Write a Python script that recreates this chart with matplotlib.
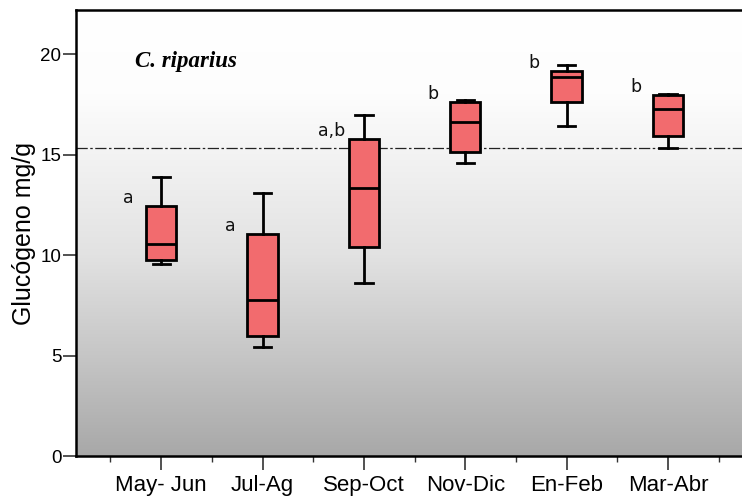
import numpy as np
import matplotlib
matplotlib.use("Agg")
import matplotlib.pyplot as plt
from matplotlib.colors import LinearSegmentedColormap

# Box statistics (mg/g)
seasons = ["May- Jun", "Jul-Ag", "Sep-Oct", "Nov-Dic", "En-Feb", "Mar-Abr"]
whisker_low = [9.56, 5.43, 8.6, 14.6, 16.43, 15.34]
q1 = [9.76, 5.98, 10.4, 15.14, 17.63, 15.94]
median = [10.55, 7.77, 13.35, 16.63, 18.87, 17.28]
q3 = [12.45, 11.05, 15.79, 17.63, 19.17, 17.98]
whisker_high = [13.9, 13.1, 16.98, 17.73, 19.47, 18.0]
groups = ["a", "a", "a,b", "b", "b", "b"]
ref_line = 15.35

plt.rcParams["font.family"] = ["Liberation Sans", "DejaVu Sans"]

fig = plt.figure(figsize=(7.42, 4.98), dpi=100)
ax = fig.add_axes([76 / 742, 42 / 498, 666 / 742, 446 / 498])

x0, x1 = 0.16, 6.73
y0, y1 = 0, 22.2

# grey gradient background
cmap = LinearSegmentedColormap.from_list(
    "bg",
    [(0.0, "#a8a8a8"), (5 / 22.2, "#c6c6c6"), (10 / 22.2, "#e2e2e2"),
     (15 / 22.2, "#f3f3f3"), (18 / 22.2, "#fdfdfd"), (1.0, "#ffffff")])
grad = np.linspace(0, 1, 256).reshape(-1, 1)
ax.imshow(grad, cmap=cmap, origin="lower", aspect="auto",
          extent=[x0, x1, y0, y1], zorder=0)

ax.axhline(ref_line, color="#222222", lw=0.9, linestyle=(0, (9, 2, 2, 2)), zorder=1)

pos = np.arange(1, len(seasons) + 1)
stats = []
for i in range(len(seasons)):
    stats.append(dict(whislo=whisker_low[i], q1=q1[i], med=median[i],
                      q3=q3[i], whishi=whisker_high[i], fliers=[]))

lw = 2.0
ax.bxp(stats, positions=pos, widths=0.3, patch_artist=True, showfliers=False,
       boxprops=dict(facecolor="#f26b6e", edgecolor="black", linewidth=lw),
       medianprops=dict(color="black", linewidth=lw),
       whiskerprops=dict(color="black", linewidth=lw),
       capprops=dict(color="black", linewidth=lw),
       capwidths=0.17, zorder=3)

for p, top, g in zip(pos, q3, groups):
    ax.text(p - 0.32, top + 0.4, g, ha="center", va="center", fontsize=12.5,
            family="DejaVu Sans", color="#111111")

ax.text(1.245, 19.62, "C. riparius", fontsize=16.5, family="Liberation Serif",
        fontstyle="italic", fontweight="bold", ha="center", va="center")

ax.set_xlim(x0, x1)
ax.set_ylim(y0, y1)
ax.set_yticks([0, 5, 10, 15, 20])
ax.set_xticks(pos)
ax.set_xticklabels(seasons, fontsize=16)
ax.set_xticks(np.arange(0.5, 7, 1.0), minor=True)
ax.tick_params(axis="y", labelsize=13.5, length=9.5, width=1.2, color="#333333", pad=1)
ax.tick_params(axis="x", which="major", length=10, width=1.2, color="#333333", pad=4)
ax.tick_params(axis="x", which="minor", length=4.5, width=1.0, color="#333333")
ax.set_ylabel("Glucógeno mg/g", fontsize=18, labelpad=3)

for s in ["left", "top", "bottom"]:
    ax.spines[s].set_linewidth(1.8)
ax.spines["right"].set_visible(False)

fig.savefig("out.png", dpi=100)
